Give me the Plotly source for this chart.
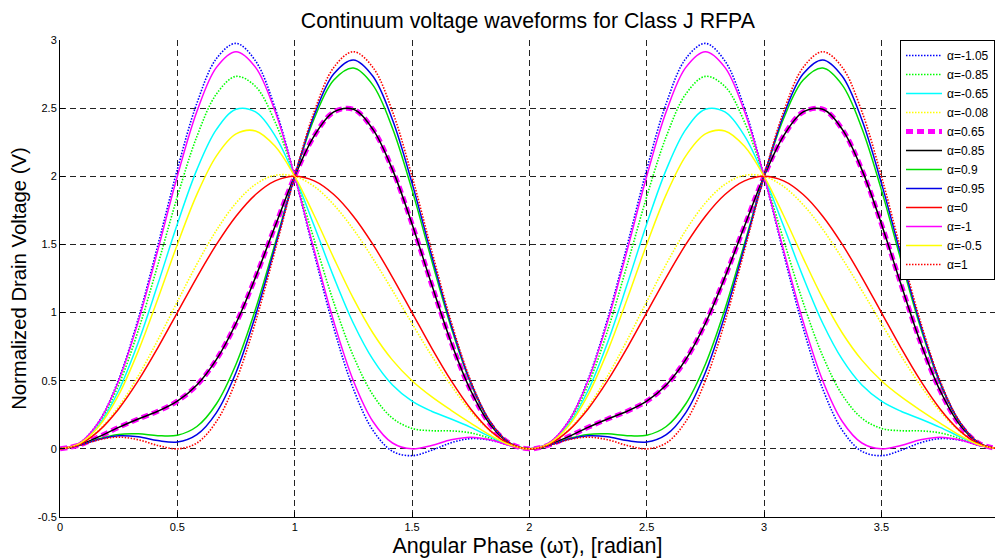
import plotly.graph_objects as go

# Angular phase samples (x axis, in units of pi)
phase = [0, 0.0833, 0.1667, 0.25, 0.3333, 0.4167, 0.5, 0.5833, 0.6667, 0.75, 0.8333, 0.9167,
         1, 1.0833, 1.1667, 1.25, 1.3333, 1.4167, 1.5, 1.5833, 1.6667, 1.75, 1.8333, 1.9167,
         2, 2.0833, 2.1667, 2.25, 2.3333, 2.4167, 2.5, 2.5833, 2.6667, 2.75, 2.8333, 2.9167,
         3, 3.0833, 3.1667, 3.25, 3.3333, 3.4167, 3.5, 3.5833, 3.6667, 3.75, 3.8333, 3.9167, 4]

v_m105 = [0, 0.043, 0.204, 0.510, 0.955, 1.493, 2.05, 2.536, 2.864, 2.975, 2.846, 2.500, 2, 1.432, 0.886, 0.440, 0.136, -0.018, -0.05, -0.011, 0.045, 0.075, 0.064, 0.025, 0,
          0.043, 0.204, 0.510, 0.955, 1.493, 2.05, 2.536, 2.864, 2.975, 2.846, 2.500, 2, 1.432, 0.886, 0.440, 0.136, -0.018, -0.05, -0.011, 0.045, 0.075, 0.064, 0.025, 0]
v_m085 = [0, 0.042, 0.191, 0.469, 0.868, 1.350, 1.85, 2.292, 2.604, 2.733, 2.659, 2.398, 2, 1.533, 1.073, 0.681, 0.396, 0.225, 0.15, 0.133, 0.132, 0.117, 0.077, 0.027, 0,
          0.042, 0.191, 0.469, 0.868, 1.350, 1.85, 2.292, 2.604, 2.733, 2.659, 2.398, 2, 1.533, 1.073, 0.681, 0.396, 0.225, 0.15, 0.133, 0.132, 0.117, 0.077, 0.027, 0]
v_m065 = [0, 0.040, 0.178, 0.428, 0.781, 1.207, 1.65, 2.049, 2.344, 2.492, 2.472, 2.297, 2, 1.635, 1.260, 0.922, 0.656, 0.468, 0.35, 0.276, 0.219, 0.158, 0.090, 0.028, 0,
          0.040, 0.178, 0.428, 0.781, 1.207, 1.65, 2.049, 2.344, 2.492, 2.472, 2.297, 2, 1.635, 1.260, 0.922, 0.656, 0.468, 0.35, 0.276, 0.219, 0.158, 0.090, 0.028, 0]
v_m008 = [0, 0.035, 0.139, 0.309, 0.535, 0.798, 1.08, 1.356, 1.604, 1.804, 1.941, 2.007, 2, 1.925, 1.791, 1.611, 1.396, 1.162, 0.92, 0.684, 0.465, 0.276, 0.129, 0.033, 0,
          0.035, 0.139, 0.309, 0.535, 0.798, 1.08, 1.356, 1.604, 1.804, 1.941, 2.007, 2, 1.925, 1.791, 1.611, 1.396, 1.162, 0.92, 0.684, 0.465, 0.276, 0.129, 0.033, 0]
v_p065 = [0, 0.028, 0.090, 0.158, 0.219, 0.276, 0.35, 0.468, 0.656, 0.922, 1.260, 1.635, 2, 2.297, 2.472, 2.492, 2.344, 2.049, 1.65, 1.207, 0.781, 0.428, 0.178, 0.040, 0,
          0.028, 0.090, 0.158, 0.219, 0.276, 0.35, 0.468, 0.656, 0.922, 1.260, 1.635, 2, 2.297, 2.472, 2.492, 2.344, 2.049, 1.65, 1.207, 0.781, 0.428, 0.178, 0.040, 0]
# the black alpha=0.85 curve is drawn on top of the alpha=0.65 curve in the picture
v_p085 = [0, 0.028, 0.090, 0.158, 0.219, 0.276, 0.35, 0.468, 0.656, 0.922, 1.260, 1.635, 2, 2.297, 2.472, 2.492, 2.344, 2.049, 1.65, 1.207, 0.781, 0.428, 0.178, 0.040, 0,
          0.028, 0.090, 0.158, 0.219, 0.276, 0.35, 0.468, 0.656, 0.922, 1.260, 1.635, 2, 2.297, 2.472, 2.492, 2.344, 2.049, 1.65, 1.207, 0.781, 0.428, 0.178, 0.040, 0]
v_p090 = [0, 0.026, 0.074, 0.106, 0.110, 0.097, 0.1, 0.164, 0.331, 0.621, 1.026, 1.508, 2, 2.424, 2.706, 2.794, 2.669, 2.353, 1.9, 1.386, 0.890, 0.479, 0.194, 0.042, 0,
          0.026, 0.074, 0.106, 0.110, 0.097, 0.1, 0.164, 0.331, 0.621, 1.026, 1.508, 2, 2.424, 2.706, 2.794, 2.669, 2.353, 1.9, 1.386, 0.890, 0.479, 0.194, 0.042, 0]
v_p095 = [0, 0.026, 0.070, 0.096, 0.089, 0.061, 0.05, 0.104, 0.266, 0.560, 0.980, 1.483, 2, 2.449, 2.752, 2.854, 2.734, 2.414, 1.95, 1.421, 0.911, 0.490, 0.198, 0.042, 0,
          0.026, 0.070, 0.096, 0.089, 0.061, 0.05, 0.104, 0.266, 0.560, 0.980, 1.483, 2, 2.449, 2.752, 2.854, 2.734, 2.414, 1.95, 1.421, 0.911, 0.490, 0.198, 0.042, 0]
v_0 = [0, 0.034, 0.134, 0.293, 0.5, 0.741, 1, 1.259, 1.5, 1.707, 1.866, 1.966, 2, 1.966, 1.866, 1.707, 1.5, 1.259, 1, 0.741, 0.5, 0.293, 0.134, 0.034, 0,
       0.034, 0.134, 0.293, 0.5, 0.741, 1, 1.259, 1.5, 1.707, 1.866, 1.966, 2, 1.966, 1.866, 1.707, 1.5, 1.259, 1, 0.741, 0.5, 0.293, 0.134, 0.034, 0]
v_m1 = [0, 0.043, 0.201, 0.500, 0.933, 1.457, 2, 2.475, 2.799, 2.914, 2.799, 2.475, 2, 1.457, 0.933, 0.500, 0.201, 0.043, 0, 0.025, 0.067, 0.086, 0.067, 0.025, 0,
        0.043, 0.201, 0.500, 0.933, 1.457, 2, 2.475, 2.799, 2.914, 2.799, 2.475, 2, 1.457, 0.933, 0.500, 0.201, 0.043, 0, 0.025, 0.067, 0.086, 0.067, 0.025, 0]
v_m05 = [0, 0.038, 0.167, 0.396, 0.717, 1.099, 1.5, 1.867, 2.150, 2.311, 2.333, 2.220, 2, 1.712, 1.400, 1.104, 0.850, 0.651, 0.5, 0.383, 0.283, 0.189, 0.100, 0.030, 0,
         0.038, 0.167, 0.396, 0.717, 1.099, 1.5, 1.867, 2.150, 2.311, 2.333, 2.220, 2, 1.712, 1.400, 1.104, 0.850, 0.651, 0.5, 0.383, 0.283, 0.189, 0.100, 0.030, 0]
v_p1 = [0, 0.025, 0.067, 0.086, 0.067, 0.025, 0, 0.043, 0.201, 0.500, 0.933, 1.457, 2, 2.475, 2.799, 2.914, 2.799, 2.475, 2, 1.457, 0.933, 0.500, 0.201, 0.043, 0,
        0.025, 0.067, 0.086, 0.067, 0.025, 0, 0.043, 0.201, 0.500, 0.933, 1.457, 2, 2.475, 2.799, 2.914, 2.799, 2.475, 2, 1.457, 0.933, 0.500, 0.201, 0.043, 0]

labels = ["α=-1.05", "α=-0.85", "α=-0.65", "α=-0.08", "α=0.65", "α=0.85",
          "α=0.9", "α=0.95", "α=0", "α=-1", "α=-0.5", "α=1"]
series = [v_m105, v_m085, v_m065, v_m008, v_p065, v_p085, v_p090, v_p095, v_0, v_m1, v_m05, v_p1]

DOT = "1.5px,1.5px"
styles = [
    dict(color="#0000ff", width=1.6, dash=DOT),
    dict(color="#00ff00", width=1.6, dash=DOT),
    dict(color="#00ffff", width=1.5),
    dict(color="#ffff00", width=1.6, dash=DOT),
    dict(color="#ff00ff", width=5, dash="7px,4px"),
    dict(color="#000000", width=1.5),
    dict(color="#00dd00", width=1.5),
    dict(color="#0000e6", width=1.5),
    dict(color="#ff0000", width=1.5),
    dict(color="#ff00ff", width=1.5),
    dict(color="#ffff00", width=1.5),
    dict(color="#ff0000", width=1.6, dash=DOT),
]

fig = go.Figure()
for name, vals, st in zip(labels, series, styles):
    fig.add_trace(go.Scatter(x=phase, y=vals, mode="lines", name=name,
                             line=dict(shape="spline", smoothing=1.0, **st)))

yt = [-0.5, 0, 0.5, 1, 1.5, 2, 2.5, 3]
yt_text = ["-0.5", "0", "0.5", "1", "1.5", "2", "2.5", "3"]

GRID = "6px,4px"
fig.update_layout(
    width=995, height=560,
    margin=dict(l=60, r=0, t=40, b=43),
    paper_bgcolor="white", plot_bgcolor="white",
    font=dict(family="Liberation Sans, Arial, sans-serif", color="black"),
    title=dict(text="Continuum voltage waveforms for Class J RFPA",
               x=0.5305, xanchor="center", y=0.963, yanchor="middle",
               font=dict(size=21.3, color="black")),
    xaxis=dict(range=[0, 3.984], tickmode="linear", tick0=0, dtick=0.5,
               showgrid=True, gridcolor="#222222", griddash=GRID, gridwidth=1,
               zeroline=False, showline=True, linecolor="black", linewidth=1,
               ticks="inside", ticklen=5, tickcolor="black",
               tickfont=dict(size=11, color="black"),
               title=dict(text="Angular Phase (ωτ), [radian]", font=dict(size=21.5, color="black"),
                          standoff=5)),
    yaxis=dict(range=[-0.5, 3], tickmode="array", tickvals=yt, ticktext=yt_text,
               showgrid=True, gridcolor="#222222", griddash=GRID, gridwidth=1,
               zeroline=False, showline=True, linecolor="black", linewidth=1,
               ticks="inside", ticklen=5, tickcolor="black",
               tickfont=dict(size=11, color="black"),
               title=dict(text="Normalized Drain Voltage (V)", font=dict(size=20.3, color="black"),
                          standoff=5)),
    legend=dict(x=1.0, y=1.0, xanchor="right", yanchor="top",
                bgcolor="white", bordercolor="black", borderwidth=1,
                font=dict(size=12, color="black"), tracegroupgap=0, itemwidth=36),
    showlegend=True,
)

fig.write_html("out.html", config={"displayModeBar": False})
